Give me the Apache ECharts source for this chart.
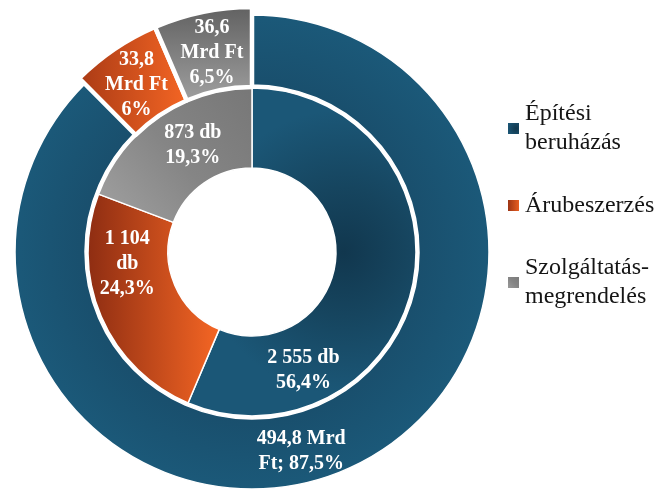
<!DOCTYPE html>
<html><head><meta charset="utf-8">
<script src="https://cdn.jsdelivr.net/npm/echarts@6/dist/echarts.min.js"></script>
<style>html,body{margin:0;padding:0;background:#fff}#c{width:665px;height:499px}</style>
</head><body><div id="c"></div>
<script>
const categories = ['Építési beruházás', 'Árubeszerzés', 'Szolgáltatás-megrendelés'];
const legendLabels = ['Építési\nberuházás', 'Árubeszerzés', 'Szolgáltatás-\nmegrendelés'];
// inner ring: number of procedures (db)
const innerCounts = [2555, 1104, 873];
const innerPct = [56.4, 24.3, 19.3];
// outer ring: value (Mrd Ft)
const outerValues = [494.8, 33.8, 36.6];
const outerPct = [87.5, 6, 6.5];
// which outer slices are pulled out (exploded)
const exploded = [false, true, true];

function hu(n) {
  const s = String(n).replace('.', ',');
  const [i, d] = s.split(',');
  const ii = i.replace(/\B(?=(\d{3})+(?!\d))/g, ' ');
  return d ? ii + ',' + d : ii;
}
const innerText = [
  i => hu(innerCounts[i]) + ' db\n' + hu(innerPct[i]) + '%',
  i => hu(innerCounts[i]) + '\ndb\n' + hu(innerPct[i]) + '%',
  i => hu(innerCounts[i]) + ' db\n' + hu(innerPct[i]) + '%'
];
const outerText = [
  i => hu(outerValues[i]) + ' Mrd\nFt; ' + hu(outerPct[i]) + '%',
  i => hu(outerValues[i]) + '\nMrd Ft\n' + hu(outerPct[i]) + '%',
  i => hu(outerValues[i]) + '\nMrd Ft\n' + hu(outerPct[i]) + '%'
];

const CX = 252, CY = 252;
const outerBlue = {type: 'radial', x: CX, y: CY, r: 238, global: true,
  colorStops: [{offset: 0, color: '#164563'}, {offset: 0.7, color: '#194f6d'}, {offset: 1, color: '#1b5979'}]};
const innerBlue = {type: 'radial', x: 0.68, y: 0.5, r: 0.62,
  colorStops: [{offset: 0, color: '#11374e'}, {offset: 0.45, color: '#16455f'}, {offset: 1, color: '#1b5777'}]};
const innerColors = [
  innerBlue,
  {type: 'linear', x: 0, y: 0, x2: 1, y2: 0, colorStops: [{offset: 0, color: '#8e2d12'}, {offset: 1, color: '#f56624'}]},
  {type: 'linear', x: 1, y: 0, x2: 0, y2: 1, colorStops: [{offset: 0, color: '#777777'}, {offset: 0.5, color: '#858585'}, {offset: 1, color: '#a2a2a2'}]}
];
const outerColors = [
  outerBlue,
  {type: 'linear', x: 0, y: 0, x2: 1, y2: 0, colorStops: [{offset: 0, color: '#a93a15'}, {offset: 1, color: '#f56624'}]},
  {type: 'linear', x: 0, y: 0, x2: 0, y2: 1, colorStops: [{offset: 0, color: '#606060'}, {offset: 1, color: '#a0a0a0'}]}
];
const innerOffsets = [[-73, 93], [-8, -38], [13, -2]];
const outerOffsets = [[-29, 10], [1, 5], [2, 5]];

const FONT = '"Liberation Serif", "DejaVu Serif", serif';
const labelStyle = {show: true, position: 'inside', color: '#fff', fontFamily: FONT, fontWeight: 'bold', fontSize: 20, lineHeight: 25};
const NONE = 'rgba(0,0,0,0)';

const chart = echarts.init(document.getElementById('c'), null, {renderer: 'canvas'});

function legendFor(i, top, twoLines) {
  const L = 29;
  return {
    orient: 'vertical', left: 501, top: top,
    itemWidth: 13, itemHeight: 13, itemGap: 0,
    icon: 'rect',
    data: [categories[i]],
    formatter: () => legendLabels[i],
    selectedMode: false,
    textStyle: {fontFamily: FONT, fontSize: 24, color: '#151515', lineHeight: L, padding: twoLines ? [L, 0, 0, 0] : 0}
  };
}

function outerSeries(radius, borderW, showExploded) {
  return {
    type: 'pie', center: [CX, CY], radius: radius,
    startAngle: 90, clockwise: true, avoidLabelOverlap: false,
    label: labelStyle, labelLine: {show: false},
    emphasis: {disabled: true},
    labelLayout: p => ({dx: outerOffsets[p.dataIndex][0], dy: outerOffsets[p.dataIndex][1]}),
    data: categories.map((c, i) => {
      const visible = exploded[i] === showExploded;
      return {name: c, value: outerValues[i],
        itemStyle: visible ? {color: outerColors[i], borderColor: '#fff', borderWidth: borderW} : {color: NONE, borderWidth: 0},
        label: visible ? {formatter: () => outerText[i](i)} : {show: false}};
    })
  };
}

chart.setOption({
  animation: false,
  legend: [legendFor(0, 80, true), legendFor(1, 186, false), legendFor(2, 234, true)],
  series: [
    {
      type: 'pie', name: 'db', center: [CX, CY], radius: [84, 164],
      startAngle: 90, clockwise: true, avoidLabelOverlap: false,
      itemStyle: {borderColor: '#fff', borderWidth: 1.5},
      label: labelStyle, labelLine: {show: false},
      emphasis: {disabled: true},
      labelLayout: p => ({dx: innerOffsets[p.dataIndex][0], dy: innerOffsets[p.dataIndex][1]}),
      data: categories.map((c, i) => ({name: c, value: innerCounts[i], itemStyle: {color: innerColors[i]},
        label: {formatter: () => innerText[i](i)}}))
    },
    outerSeries([167, 237], 1.5, false),
    outerSeries([165, 245], 4.5, true)
  ]
});
</script>
</body></html>
